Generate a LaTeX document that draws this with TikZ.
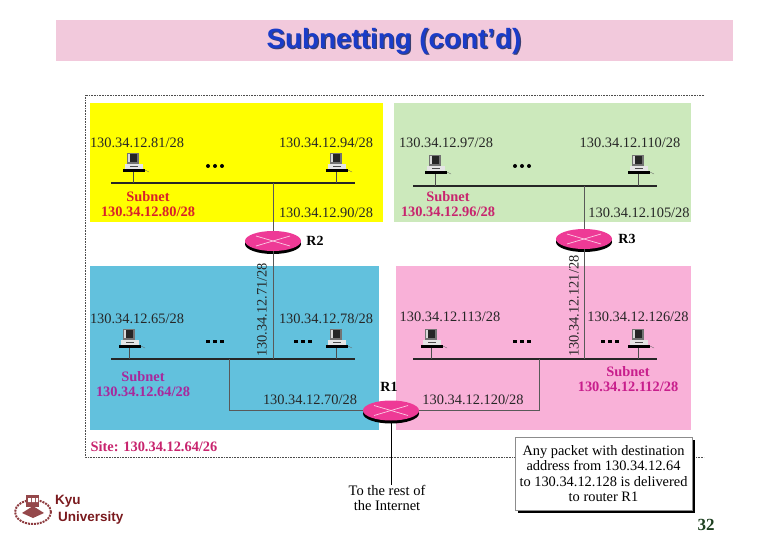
\documentclass[tikz,border=0pt]{standalone}
\usepackage{fontspec}
\setmainfont{Liberation Serif}
\setsansfont{Liberation Sans}
\usetikzlibrary{shapes.geometric, positioning, calc, shadows}
\definecolor{bandpink}{HTML}{F2C9DC}
\definecolor{titleblue}{HTML}{1A3CC8}
\definecolor{titleshade}{HTML}{3A3F70}
\definecolor{areayellow}{HTML}{FFFF00}
\definecolor{areagreen}{HTML}{CCE9BC}
\definecolor{areablue}{HTML}{62C1DD}
\definecolor{areapink}{HTML}{F9B1D8}
\definecolor{routerpink}{HTML}{EE3A96}
\definecolor{nameredd}{HTML}{D8202A}
\definecolor{namerose}{HTML}{C8246E}
\definecolor{namepurple}{HTML}{A8289C}
\definecolor{namemagenta}{HTML}{C81E8C}
\definecolor{logored}{HTML}{7A1A1E}
\definecolor{pagegreen}{HTML}{1E4020}
\tikzset{
  area/.style={rectangle, draw=none, inner sep=0pt, anchor=north west},
  iplabel/.style={font=\fontsize{14.4}{16}\selectfont, inner sep=0pt, text=black!85},
  subnetlabel/.style={font=\fontsize{14.4}{14.6}\selectfont\bfseries, align=center, inner sep=0pt},
  routername/.style={font=\fontsize{14}{16}\selectfont\bfseries, inner sep=0pt},
  router/.style={ellipse, draw=none, fill=routerpink, minimum width=56pt, minimum height=20pt, inner sep=0pt, drop shadow={shadow xshift=0pt, shadow yshift=-3pt, fill=black, opacity=1}},
  crossmark/.style={white!75!routerpink, line width=0.7pt},
  bus/.style={line width=1.3pt, black!85},
  tap/.style={line width=0.8pt, black!70},
  wire/.style={line width=0.7pt, black!65},
  notebox/.style={rectangle, draw=black!45, fill=white, line width=0.8pt, align=center, font=\fontsize{14.4}{15.6}\selectfont, minimum width=177pt, minimum height=73pt, inner sep=0pt, drop shadow={shadow xshift=3pt, shadow yshift=-3pt, fill=black, opacity=1}},
  pcicon/.pic={
    \fill [black!55] (-6,-19) rectangle (6,-8);
    \fill [black!85] (-4,-18) rectangle (4,-10);
    \fill [black!15] (-5,-18) rectangle (-3,-10);
    \fill [white!90!black] (-8,-8) rectangle (10,-3);
    \fill [black!70] (-3,-6) rectangle (5,-5);
    \fill [black] (-10,-3) rectangle (12,0);
    \draw [black!60, line width=0.4pt] (12,-2) -- (16,0);
  }
}
\begin{document}
\begin{tikzpicture}[x=1pt, y=-1pt]
    \useasboundingbox (0,0) rectangle (780,540);
    \fill [bandpink] (56,20) rectangle (733,61);
    \node (titleshadow) [font=\sffamily\bfseries\fontsize{27.8}{30}\selectfont, text=titleshade, inner sep=0pt] at (395.2,42.7) {Subnetting (cont’d)};
    \node (title) [font=\sffamily\bfseries\fontsize{27.8}{30}\selectfont, text=titleblue, inner sep=0pt] at (394,41.5) {Subnetting (cont’d)};

    \draw [black!70, densely dotted, line width=0.6pt] (704,95) -- (85,95) -- (85,457) -- (704,457);

    \node (yellowarea) [area, fill=areayellow, minimum width=293pt, minimum height=119pt] at (90,103) {};
    \node (greenarea) [area, fill=areagreen, minimum width=297pt, minimum height=119pt] at (394,103) {};
    \node (bluearea) [area, fill=areablue, minimum width=289pt, minimum height=164pt] at (90,266) {};
    \node (pinkarea) [area, fill=areapink, minimum width=295pt, minimum height=164pt] at (396,266) {};

    \coordinate (yellowbusl) at (111,183);
    \coordinate (yellowbusr) at (355,183);
    \coordinate (greenbusl) at (413,186);
    \coordinate (greenbusr) at (657,186);
    \coordinate (bluebusl) at (111,359);
    \coordinate (bluebusr) at (355,359);
    \coordinate (pinkbusl) at (413,359);
    \coordinate (pinkbusr) at (657,359);
    \draw [bus] (yellowbusl) -- (yellowbusr);
    \draw [bus] (greenbusl) -- (greenbusr);
    \draw [bus] (bluebusl) -- (bluebusr);
    \draw [bus] (pinkbusl) -- (pinkbusr);

    \foreach \pcname/\pcx/\pcy/\pcbus in {pca/133/172/yellowbusl, pcb/336/172/yellowbusl, pcc/435/174/greenbusl, pcd/638/174/greenbusl, pce/129/348/bluebusl, pcf/336/348/bluebusl, pcg/431/348/pinkbusl, pch/638/348/pinkbusl}{
        \coordinate (\pcname) at (\pcx,\pcy);
        \draw [tap] (\pcname) -- (\pcname |- \pcbus);
        \pic at (\pcname) {pcicon};
    }

    \node (rone) [router] at (391,410.5) {};
    \node (rtwo) [router] at (273,241) {};
    \node (rthree) [router] at (584,239) {};
    \foreach \routername in {rone,rtwo,rthree}{
        \draw [crossmark] ([shift={(-17pt,-5pt)}]\routername.center) -- ([shift={(17pt,5pt)}]\routername.center);
        \draw [crossmark] ([shift={(-17pt,5pt)}]\routername.center) -- ([shift={(17pt,-5pt)}]\routername.center);
    }
    \node (rtwolabel) [routername, right=5pt of rtwo] {R2};
    \node (rthreelabel) [routername, right=6pt of rthree] {R3};
    \node (ronelabel) [routername] at (389,387) {R1};

    \coordinate (bluetap) at (229,359);
    \coordinate (pinktap) at (539,359);
    \draw [wire] (rtwo) -- (rtwo |- yellowbusl);
    \draw [wire] (rtwo) -- (rtwo |- bluebusl);
    \draw [wire] (rthree) -- (rthree |- greenbusl);
    \draw [wire] (rthree) -- (rthree |- pinkbusl);
    \draw [wire] (rone.west) -| (bluetap);
    \draw [wire] (rone.east) -| (pinktap);

    \node (ipa) [iplabel] at (137,143) {130.34.12.81/28};
    \node (ipb) [iplabel] at (326,143) {130.34.12.94/28};
    \node (ipc) [iplabel] at (326,213) {130.34.12.90/28};
    \node (ipd) [iplabel] at (446,143) {130.34.12.97/28};
    \node (ipe) [iplabel] at (630,143) {130.34.12.110/28};
    \node (ipf) [iplabel] at (639,213) {130.34.12.105/28};
    \node (ipg) [iplabel] at (137,319) {130.34.12.65/28};
    \node (iph) [iplabel] at (326,319) {130.34.12.78/28};
    \node (ipi) [iplabel] at (310,400) {130.34.12.70/28};
    \node (ipj) [iplabel] at (450,317) {130.34.12.113/28};
    \node (ipk) [iplabel] at (638,317) {130.34.12.126/28};
    \node (ipl) [iplabel] at (473,400) {130.34.12.120/28};
    \node (ipm) [iplabel, rotate=90] at (262,310) {130.34.12.71/28};
    \node (ipn) [iplabel, rotate=90] at (574,306) {130.34.12.121/28};

    \node (subnetyellow) [subnetlabel, text=nameredd] at (148,204) {Subnet\\130.34.12.80/28};
    \node (subnetgreen) [subnetlabel, text=namerose] at (448,204) {Subnet\\130.34.12.96/28};
    \node (subnetblue) [subnetlabel, text=namepurple] at (143,384) {Subnet\\130.34.12.64/28};
    \node (subnetpink) [subnetlabel, text=namemagenta] at (628,379) {Subnet\\130.34.12.112/28};
    \node (site) [subnetlabel, text=namerose] at (154,447) {Site: 130.34.12.64/26};

    \foreach \dotsx in {215,522}{
        \foreach \dotsoff in {-7,0,7}
            \fill [black] (\dotsx+\dotsoff,166) circle (2pt);
    }
    \foreach \dotsx in {215,303,522,610}{
        \foreach \dotsoff in {-7,0,7}
            \fill [black] (\dotsx+\dotsoff-2.2,340) rectangle ++(4.4,3.4);
    }

    \node (internet) [font=\fontsize{14.5}{15.8}\selectfont, align=center, inner sep=0pt] at (387,498) {To the rest of\\the Internet};
    \draw [line width=1pt, black] (rone.south) -- (rone.south |- internet.north);

    \node (note) [notebox] at (603.5,473.5) {Any packet with destination\\address from 130.34.12.64\\to 130.34.12.128 is delivered\\to router R1};

    \node (pagenum) [font=\fontsize{17}{18}\selectfont\bfseries, text=pagegreen, inner sep=0pt] at (706,525) {32};

    \draw [logored!85, line width=2pt, dash pattern=on 2pt off 1pt] (33,512) ellipse [x radius=18pt, y radius=12pt];
    \fill [logored!80] (26,495) rectangle (39,507);
    \fill [white] (28,498) rectangle (31,502) (32,498) rectangle (35,502) (36,498) rectangle (38,502);
    \fill [logored!80] (22,513) -- (33,506) -- (44,513) -- (33,518) -- cycle;
    \node (kyu) [font=\sffamily\bfseries\fontsize{13.5}{15}\selectfont, text=logored, inner sep=0pt, anchor=west] at (55,501) {Kyu};
    \node (university) [font=\sffamily\bfseries\fontsize{13.5}{15}\selectfont, text=logored, inner sep=0pt, anchor=west] at (58,518) {University};
\end{tikzpicture}
\end{document}
